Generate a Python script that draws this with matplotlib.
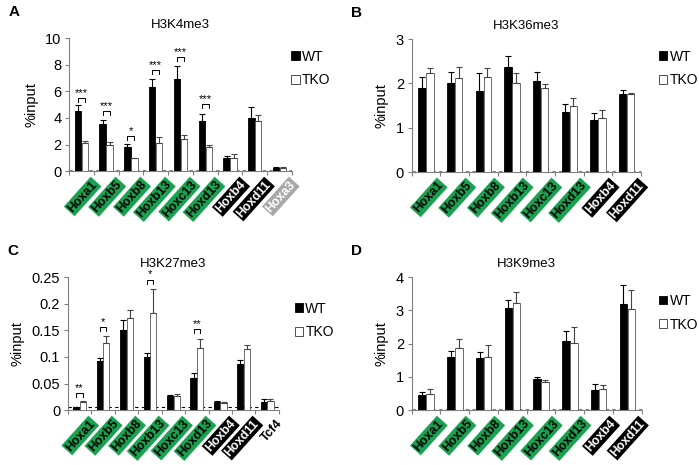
import numpy as np
import matplotlib.pyplot as plt
from matplotlib.patches import Patch

plt.rcParams["font.family"] = ["Liberation Sans", "DejaVu Sans"]

# ---- data ----
genes_a = ["Hoxa1", "Hoxb5", "Hoxb8", "Hoxb13", "Hoxc13", "Hoxd13", "Hoxb4", "Hoxd11", "Hoxa3"]
wt_a = [4.5, 3.58, 1.85, 6.34, 6.94, 3.78, 1.0, 4.0, 0.25]
wt_a_err = [0.5, 0.25, 0.2, 0.6, 1.0, 0.5, 0.15, 0.8, 0.03]
tko_a = [2.08, 1.98, 1.0, 2.13, 2.43, 1.83, 1.0, 3.78, 0.25]
tko_a_err = [0.2, 0.22, 0.0, 0.4, 0.3, 0.17, 0.25, 0.45, 0.05]
sig_a = {0: "***", 1: "***", 2: "*", 3: "***", 4: "***", 5: "***"}
sig_a_y = {0: 5.5, 1: 4.5, 2: 2.65, 3: 7.6, 4: 8.55, 5: 5.05}

genes_b = ["Hoxa1", "Hoxb5", "Hoxb8", "Hoxb13", "Hoxc13", "Hoxd13", "Hoxb4", "Hoxd11"]
wt_b = [1.9, 2.02, 1.82, 2.37, 2.06, 1.35, 1.18, 1.75]
wt_b_err = [0.24, 0.24, 0.42, 0.24, 0.2, 0.18, 0.15, 0.09]
tko_b = [2.23, 2.12, 2.15, 2.02, 1.89, 1.5, 1.23, 1.76]
tko_b_err = [0.11, 0.26, 0.2, 0.21, 0.1, 0.17, 0.16, 0.02]

genes_c = ["Hoxa1", "Hoxb5", "Hoxb8", "Hoxb13", "Hoxc13", "Hoxd13", "Hoxb4", "Hoxd11", "Tcf4"]
wt_c = [0.0056, 0.0925, 0.15, 0.1, 0.026, 0.061, 0.015, 0.0875, 0.016]
wt_c_err = [0.001, 0.005, 0.02, 0.007, 0.003, 0.008, 0.003, 0.007, 0.004]
tko_c = [0.016, 0.127, 0.174, 0.183, 0.026, 0.117, 0.0138, 0.114, 0.0175]
tko_c_err = [0.002, 0.013, 0.014, 0.045, 0.004, 0.017, 0.001, 0.009, 0.0025]
sig_c = {0: "**", 1: "*", 3: "*", 5: "**"}
sig_c_y = {0: 0.032, 1: 0.156, 3: 0.245, 5: 0.152}

genes_d = ["Hoxa1", "Hoxb5", "Hoxb8", "Hoxb13", "Hoxc13", "Hoxd13", "Hoxb4", "Hoxd11"]
wt_d = [0.45, 1.6, 1.58, 3.07, 0.94, 2.07, 0.6, 3.2]
wt_d_err = [0.09, 0.19, 0.18, 0.23, 0.06, 0.32, 0.2, 0.56]
tko_d = [0.5, 1.87, 1.61, 3.22, 0.84, 2.01, 0.65, 3.05]
tko_d_err = [0.15, 0.27, 0.35, 0.33, 0.06, 0.5, 0.12, 0.57]

green = "#1aa251"
label_style = {"Hoxb4": ("black", "white"), "Hoxd11": ("black", "white"),
               "Hoxa3": ("#a8a8a8", "white"), "Tcf4": (None, "black")}
spine_col = "#808080"


def panel(rect, letter, title, genes, wt, wt_err, tko, tko_err, ymax, ystep,
          yfmt, dash_y, dash_col, leg_xy, sig=None, sig_y=None):
    ax = fig.add_axes(rect)
    x = np.arange(len(genes))
    off, w = 0.14, 0.26
    ax.bar(x - off, wt, w, color="black", edgecolor="black", linewidth=0.6, zorder=3)
    ax.bar(x + off, tko, w, color="white", edgecolor="#555555", linewidth=0.6, zorder=3)
    ax.errorbar(x - off, wt, yerr=[np.zeros(len(wt)), wt_err], fmt="none",
                ecolor="black", elinewidth=0.8, capsize=2.2, capthick=0.8, zorder=4)
    ax.errorbar(x + off, tko, yerr=[np.zeros(len(tko)), tko_err], fmt="none",
                ecolor="#444444", elinewidth=0.8, capsize=2.2, capthick=0.8, zorder=4)
    ax.axhline(dash_y, color=dash_col, ls=(0, (3, 3)), lw=0.8, zorder=2)

    ax.set_xlim(-0.5, len(genes) - 0.5)
    ax.set_ylim(0, ymax)
    yt = np.arange(0, ymax + ystep / 2, ystep)
    ax.set_yticks(yt)
    ax.set_yticklabels([yfmt(v) for v in yt])
    ax.set_xticks(np.arange(len(genes) + 1) - 0.5)
    ax.set_xticklabels([])
    ax.tick_params(axis="both", direction="out", length=3, color=spine_col,
                   labelsize=10.5, width=0.8, pad=2.5)
    for s in ["top", "right"]:
        ax.spines[s].set_visible(False)
    for s in ["left", "bottom"]:
        ax.spines[s].set_color(spine_col)
        ax.spines[s].set_linewidth(0.8)
    ax.set_ylabel("%input", fontsize=10.5, labelpad=5)
    ax.set_title(title, fontsize=9.5, pad=7)

    # gene labels in coloured boxes
    tr = ax.get_xaxis_transform()
    for i, g in enumerate(genes):
        bg, fg = label_style.get(g, (green, "black"))
        bbox = None if bg is None else dict(boxstyle="square,pad=0.1", fc=bg, ec="none")
        ax.text(i + 0.38, -0.055, g, transform=tr, rotation=48, rotation_mode="anchor",
                ha="right", va="top", fontsize=9, fontweight="bold", color=fg,
                bbox=bbox, clip_on=False)

    # significance brackets
    if sig:
        h = 0.03 * ymax
        for i, s in sig.items():
            yb = sig_y[i]
            ax.plot([i - off, i - off, i + off, i + off], [yb - h, yb, yb, yb - h],
                    color="black", lw=0.7, zorder=5, clip_on=False)
            ax.text(i, yb + 0.002 * ymax, s, ha="center", va="bottom", fontsize=8)

    fig.text(rect[0] - 0.087, rect[1] + rect[3] + 0.056, letter, fontsize=11,
             fontweight="bold", va="center")
    handles = [Patch(fc="black", ec="black", lw=0.6),
               Patch(fc="white", ec="#333333", lw=0.6)]
    fig.legend(handles, ["WT", "TKO"], loc="upper left", bbox_to_anchor=leg_xy,
               frameon=False, fontsize=10, handlelength=0.6, handleheight=0.6,
               handletextpad=0.15, labelspacing=0.7, borderaxespad=0)
    return ax


fig = plt.figure(figsize=(6.99, 4.65), dpi=100)

panel([0.0987, 0.632, 0.319, 0.286], "A", "H3K4me3", genes_a, wt_a, wt_a_err,
      tko_a, tko_a_err, 10, 2, lambda v: f"{v:g}", 0.05, spine_col,
      (0.409, 0.905), sig_a, sig_a_y)
panel([0.589, 0.630, 0.328, 0.286], "B", "H3K36me3", genes_b, wt_b, wt_b_err,
      tko_b, tko_b_err, 3, 1, lambda v: f"{v:g}", 0.02, spine_col,
      (0.935, 0.905))
panel([0.097, 0.118, 0.302, 0.286], "C", "H3K27me3", genes_c, wt_c, wt_c_err,
      tko_c, tko_c_err, 0.25, 0.05, lambda v: f"{round(v, 2):g}", 0.006, "black",
      (0.414, 0.363), sig_c, sig_c_y)
panel([0.589, 0.118, 0.329, 0.286], "D", "H3K9me3", genes_d, wt_d, wt_d_err,
      tko_d, tko_d_err, 4, 1, lambda v: f"{v:g}", 0.02, spine_col,
      (0.935, 0.38))

plt.savefig("out.png", dpi=100)
